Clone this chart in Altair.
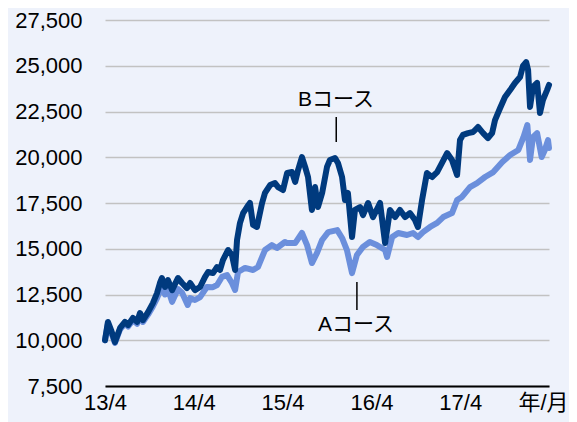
import altair as alt
import pandas as pd

# B course (dark line)
b_dates = [
    "2013-04-01", "2013-04-13", "2013-04-26", "2013-05-12", "2013-06-02", "2013-06-22",
    "2013-07-05", "2013-07-25", "2013-08-11", "2013-08-23", "2013-09-04", "2013-09-25",
    "2013-10-15", "2013-11-01", "2013-11-13", "2013-11-21", "2013-12-04", "2013-12-16",
    "2014-01-02", "2014-01-26", "2014-02-12", "2014-03-04", "2014-03-17", "2014-04-06",
    "2014-04-27", "2014-05-17", "2014-05-30", "2014-06-19", "2014-07-06", "2014-07-18",
    "2014-07-30", "2014-08-20", "2014-09-05", "2014-09-18", "2014-09-26", "2014-10-08",
    "2014-10-21", "2014-11-06", "2014-11-18", "2014-12-01", "2014-12-17", "2015-01-07",
    "2015-01-19", "2015-02-09", "2015-03-01", "2015-03-14", "2015-04-03", "2015-04-20",
    "2015-05-10", "2015-05-23", "2015-06-04", "2015-06-20", "2015-07-03", "2015-07-15",
    "2015-07-31", "2015-08-13", "2015-08-25", "2015-09-11", "2015-10-01", "2015-10-13",
    "2015-11-03", "2015-11-15", "2015-12-02", "2015-12-14", "2015-12-26", "2016-01-12",
    "2016-01-24", "2016-02-14", "2016-02-26", "2016-03-18", "2016-04-07", "2016-04-28",
    "2016-05-06", "2016-05-27", "2016-06-16", "2016-07-07", "2016-07-27", "2016-08-17",
    "2016-09-06", "2016-09-27", "2016-10-09", "2016-10-26", "2016-11-15", "2016-12-06",
    "2016-12-27", "2017-01-16", "2017-02-06", "2017-02-26", "2017-03-19", "2017-03-31",
    "2017-04-12", "2017-05-03", "2017-05-24", "2017-06-13", "2017-07-04", "2017-07-24",
    "2017-08-10", "2017-08-22", "2017-09-12", "2017-10-02", "2017-10-23", "2017-11-12",
    "2017-12-03", "2017-12-15", "2017-12-28", "2018-01-05", "2018-01-13", "2018-01-25",
    "2018-02-11", "2018-02-23", "2018-03-07", "2018-03-24", "2018-04-01",
]
b_values = [
    10000, 11000, 10560, 9900, 10670, 11000,
    10830, 11220, 11000, 11490, 11100, 11540,
    12030, 12580, 13130, 13400, 12910, 13290,
    12740, 13400, 13130, 12850, 13130, 12740,
    12910, 13450, 13730, 13670, 14000, 13840,
    14380, 14930, 14660, 13840, 15480, 16400,
    16950, 17280, 17500, 16300, 16190, 17500,
    18050, 18480, 18590, 18370, 18210, 19140,
    19190, 18650, 19300, 20010, 19470, 18920,
    17120, 18370, 17280, 18050, 19470, 19850,
    19960, 19690, 18920, 17660, 18050, 15640,
    17120, 17280, 16840, 17500, 16730, 17280,
    17500, 15310, 17120, 16730, 17120, 16730,
    16950, 16570, 16190, 17660, 19140, 18920,
    19190, 19690, 20230, 19850, 19030, 20940,
    21220, 21320, 21380, 21650, 21320, 21050,
    21320, 22030, 22690, 23290, 23670, 24060,
    24380, 24990, 25200, 24770, 22750, 23840,
    24060, 22420, 23130, 23670, 23950,
]

# A course (light line)
a_dates = [
    "2013-04-01", "2013-04-13", "2013-04-26", "2013-05-12", "2013-06-02", "2013-06-22",
    "2013-07-05", "2013-07-25", "2013-08-11", "2013-08-23", "2013-09-04", "2013-09-25",
    "2013-10-15", "2013-11-01", "2013-11-13", "2013-11-21", "2013-12-04", "2013-12-16",
    "2014-01-02", "2014-01-26", "2014-02-12", "2014-03-07", "2014-03-17", "2014-04-06",
    "2014-04-27", "2014-05-25", "2014-06-19", "2014-07-06", "2014-07-26", "2014-08-16",
    "2014-09-05", "2014-09-18", "2014-09-30", "2014-10-29", "2014-12-01", "2014-12-21",
    "2015-01-19", "2015-02-16", "2015-03-09", "2015-04-11", "2015-04-20", "2015-05-23",
    "2015-06-20", "2015-07-11", "2015-07-31", "2015-08-21", "2015-09-11", "2015-10-06",
    "2015-11-12", "2015-12-02", "2015-12-22", "2016-01-12", "2016-02-01", "2016-02-26",
    "2016-03-25", "2016-04-23", "2016-05-27", "2016-06-04", "2016-06-25", "2016-07-20",
    "2016-08-25", "2016-09-19", "2016-10-09", "2016-10-30", "2016-11-28", "2016-12-27",
    "2017-01-21", "2017-02-26", "2017-03-19", "2017-04-08", "2017-05-11", "2017-06-09",
    "2017-07-12", "2017-08-15", "2017-09-21", "2017-10-23", "2017-11-26", "2017-12-17",
    "2018-01-02", "2018-01-13", "2018-01-25", "2018-02-11", "2018-03-02", "2018-03-15",
    "2018-03-28", "2018-04-01",
]
a_values = [
    10000, 10900, 10450, 9850, 10600, 10900,
    10750, 11100, 10900, 11350, 11000, 11400,
    11850, 12300, 12700, 12900, 12500, 12800,
    12100, 12800, 12600, 11930, 12300, 12200,
    12360, 12910, 12900, 13020, 13460, 13560,
    13130, 12750, 13730, 13950, 13840, 14000,
    14930, 15200, 15040, 15370, 15310, 15310,
    15860, 15200, 14220, 14770, 15480, 15910,
    16020, 15590, 14930, 13670, 14660, 15100,
    15370, 15200, 14930, 14550, 15640, 15860,
    15750, 15860, 15640, 15910, 16190, 16410,
    16730, 16950, 17660, 17830, 18370, 18590,
    18920, 19190, 19740, 20120, 20400, 21100,
    21760, 19850, 21100, 21320, 20010, 20400,
    20940, 20500,
]

y_ticks = [7500, 10000, 12500, 15000, 17500, 20000, 22500, 25000, 27500]
x_tick_years = [2013, 2014, 2015, 2016, 2017, 2018]

ann_labels = ["Bコース", "Aコース"]
ann_dates = ["2015-11-07", "2016-01-28"]
ann_values = [23130, 10830]
rule_dates = ["2015-11-08", "2016-02-01"]
rule_top = [22200, 13180]
rule_bottom = [20830, 11650]

FONT = "Liberation Sans, Noto Sans CJK JP, sans-serif"
LAST_TICK = "utcFormat(datum.value, '%Y') == '2018'"

df_a = pd.DataFrame({"date": a_dates, "value": a_values})
df_b = pd.DataFrame({"date": b_dates, "value": b_values})
df_ann = pd.DataFrame({"date": ann_dates, "value": ann_values, "label": ann_labels})
df_rule = pd.DataFrame({"date": rule_dates, "top": rule_top, "bottom": rule_bottom})

x_scale = alt.Scale(
    type="utc",
    domain=[alt.DateTime(year=2013, month=4, date=1, utc=True),
            alt.DateTime(year=2018, month=4, date=1, utc=True)],
)
y_scale = alt.Scale(domain=[7500, 27500], nice=False, zero=False)

x_axis = alt.Axis(
    values=[alt.DateTime(year=y, month=4, date=1, utc=True) for y in x_tick_years],
    labelExpr=LAST_TICK + " ? '年/月' : utcFormat(datum.value, '%y/%-m')",
    title=None, grid=False, ticks=False, domain=True, domainColor="#000000", domainWidth=2,
    labelFontSize=22, labelColor="#000000", labelFont=FONT, labelPadding=6,
    labelOffset={"condition": {"test": LAST_TICK, "value": -6}, "value": 0},
    labelFlush=False, labelOverlap=False, labelBound=False,
)
y_axis = alt.Axis(
    values=y_ticks, format=",.0f", title=None, domain=False, ticks=False,
    grid=True, gridColor="#c2c2c2", gridWidth=1.5,
    labelFontSize=22, labelColor="#000000", labelFont=FONT, labelPadding=23,
)

line_a = alt.Chart(df_a).mark_line(color="#6b8fdc", strokeWidth=6, strokeJoin="round", strokeCap="round").encode(
    x=alt.X("date:T", scale=x_scale, axis=x_axis),
    y=alt.Y("value:Q", scale=y_scale, axis=y_axis),
)
line_b = alt.Chart(df_b).mark_line(color="#003a7e", strokeWidth=6, strokeJoin="round", strokeCap="round").encode(
    x=alt.X("date:T", scale=x_scale),
    y=alt.Y("value:Q", scale=y_scale),
)
texts = alt.Chart(df_ann).mark_text(fontSize=21, font=FONT, color="#000000", align="center", baseline="middle").encode(
    x=alt.X("date:T", scale=x_scale),
    y=alt.Y("value:Q", scale=y_scale),
    text="label:N",
)
rules = alt.Chart(df_rule).mark_rule(color="#000000", strokeWidth=1.5).encode(
    x=alt.X("date:T", scale=x_scale),
    y=alt.Y("top:Q", scale=y_scale),
    y2="bottom:Q",
)

chart = alt.layer(line_a, line_b, rules, texts).properties(
    width=444, height=366,
    autosize=alt.AutoSizeParams(type="none"),
    padding={"left": 97, "top": 12, "right": 20, "bottom": 36},
    background="#eef2fb",
).configure_view(stroke=None)

chart.save("out.html", embed_options={"renderer": "svg", "actions": False})
